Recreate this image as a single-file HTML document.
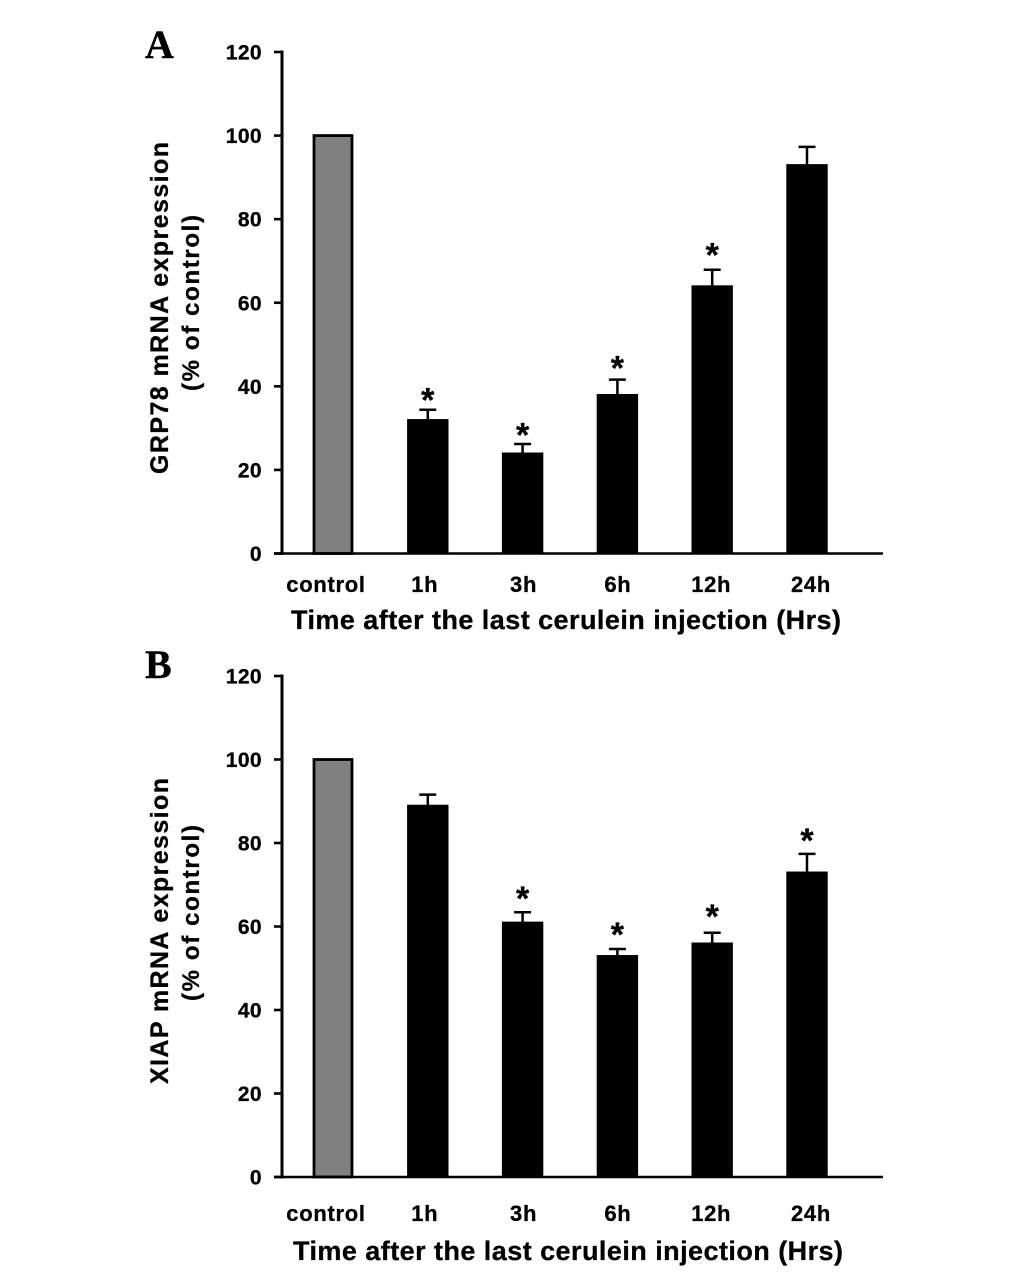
<!DOCTYPE html>
<html lang="en">
<head>
<meta charset="utf-8">
<title>GRP78 and XIAP mRNA expression</title>
<style>
html,body{margin:0;padding:0;background:#fff;}
svg{display:block;}
text{font-family:"Liberation Sans",Arial,sans-serif;font-weight:bold;fill:#000;stroke:#000;stroke-width:0.3px;}
.letter{font-family:"Liberation Serif",serif;font-size:40px;stroke-width:0.4px;}
</style>
</head>
<body>
<svg id="figure" width="1033" height="1285" viewBox="0 0 1033 1285" xmlns="http://www.w3.org/2000/svg"></svg>
<script>
const categories = ['control', '1h', '3h', '6h', '12h', '24h'];
const yTicks = [0, 20, 40, 60, 80, 100, 120];
const grp78Values = [100, 32, 24, 38, 64, 93];
const grp78Errors = [0, 2.4, 2.2, 3.6, 3.9, 4.3];
const grp78StarLevels = [null, 37.7, 29.3, 45.3, 72.4, null];
const xiapValues = [100, 89, 61, 53, 56, 73];
const xiapErrors = [0, 2.6, 2.4, 1.6, 2.5, 4.4];
const xiapStarLevels = [null, null, 67.7, 59, 63.4, 81.6];

const svg = document.getElementById('figure');
const NS = 'http://www.w3.org/2000/svg';
const labelNudge = [-7, -3, 1, 0.5, -1, 4];

function make(parent, tag, attrs, text) {
  const el = document.createElementNS(NS, tag);
  for (const k in attrs) el.setAttribute(k, attrs[k]);
  if (text !== undefined) el.textContent = text;
  parent.appendChild(el);
  return el;
}

function drawPanel(p) {
  const g = make(svg, 'g', {});
  
  

  const yScale = v => p.y0 - v * (p.y0 - p.yTop) / 120;
  const xScale = i => 333 + i * 94.8;

  const letter = make(g, 'text', {x: 145, y: p.letterY, class: 'letter'}, p.letter);
  
  

  categories.forEach((c, i) => {
    const v = p.values[i], e = p.errors[i], x = xScale(i);
    const isControl = i === 0;
    const inset = isControl ? 19 : 20;
    const bar = make(g, 'rect', {
      x: x - inset, y: yScale(v), width: inset * 2, height: p.y0 - yScale(v),
      fill: isControl ? '#808080' : '#000', stroke: '#000',
      'stroke-width': isControl ? 2.8 : 1.4
    });
    
    

    if (e > 0) {
      const top = yScale(v + e);
      const stem = make(g, 'line', {x1: x, x2: x, y1: yScale(v), y2: top, stroke: '#000', 'stroke-width': 2.5});
      
      
      const cap = make(g, 'line', {x1: x - 8.5, x2: x + 8.5, y1: top, y2: top, stroke: '#000', 'stroke-width': 2.5});
      
      
    }

    if (p.starLevels[i] !== null) {
      const star = make(g, 'text', {x: x, y: yScale(p.starLevels[i]) + 15.5, 'text-anchor': 'middle', 'font-size': 34}, '*');
      
      
    }

    const label = make(g, 'text', {x: x + labelNudge[i], y: p.catY, 'text-anchor': 'middle', 'font-size': 22, 'letter-spacing': 0.7}, c);
    
    
  });

  const yAxis = make(g, 'line', {x1: 282, x2: 282, y1: p.yTop - 1.5, y2: p.y0 + 1.5, stroke: '#000', 'stroke-width': 3});
  
  
  const xAxis = make(g, 'line', {x1: 274, x2: 883, y1: p.y0, y2: p.y0, stroke: '#000', 'stroke-width': 2.6});
  
  

  yTicks.forEach(t => {
    const tick = make(g, 'line', {x1: 274, x2: 282, y1: yScale(t), y2: yScale(t), stroke: '#000', 'stroke-width': 2.6});
    
    
    const lab = make(g, 'text', {x: 262, y: yScale(t) + 7.5, 'text-anchor': 'end', 'font-size': 21, 'letter-spacing': 0.4}, t);
    
    
  });

  const xTitle = make(g, 'text', {x: p.xTitleX, y: p.xTitleY, 'font-size': 27, textLength: 550, lengthAdjust: 'spacing'}, 'Time after the last cerulein injection (Hrs)');
  
  

  const t1 = make(g, 'text', {
    transform: 'translate(168 ' + p.title1Start + ') rotate(-90)',
    'font-size': 25, textLength: p.title1Len, lengthAdjust: 'spacing'
  }, p.title1);
  
  

  const t2 = make(g, 'text', {
    transform: 'translate(199 ' + p.title2Start + ') rotate(-90)',
    'font-size': 24, textLength: 176, lengthAdjust: 'spacing'
  }, '(% of control)');
  
  
}

drawPanel({
  key: 'grp78', letter: 'A', letterY: 58, yTop: 52, y0: 553.5, catY: 592,
  xTitleX: 291, xTitleY: 629, values: grp78Values, errors: grp78Errors,
  starLevels: grp78StarLevels, title1: 'GRP78 mRNA expression',
  title1Start: 474, title1Len: 332, title2Start: 391
});
drawPanel({
  key: 'xiap', letter: 'B', letterY: 678, yTop: 676, y0: 1177, catY: 1221,
  xTitleX: 293, xTitleY: 1260, values: xiapValues, errors: xiapErrors,
  starLevels: xiapStarLevels, title1: 'XIAP mRNA expression',
  title1Start: 1084, title1Len: 306, title2Start: 1001
});
</script>
</body>
</html>
